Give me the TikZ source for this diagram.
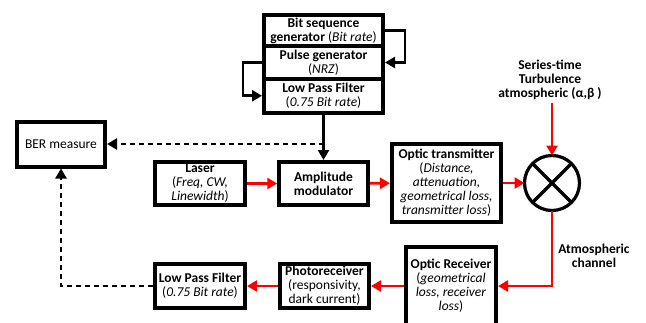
\documentclass[tikz,border=0pt]{standalone}
\usepackage{fontspec}
\setmainfont{Carlito}
\usetikzlibrary{positioning,arrows.meta}
\begin{document}
\begin{tikzpicture}[x=1pt, y=-1pt, font=\fontsize{13.5}{14}\selectfont,
    blk/.style={draw, line width=4pt, align=center, inner sep=1pt},
    lbl/.style={align=center, font=\fontsize{13.5}{14}\selectfont\bfseries},
    sig/.style={red, line width=2.8pt, -{Triangle[length=10pt,width=11pt]}},
    ctl/.style={black, line width=2.8pt, -{Triangle[length=10pt,width=11pt]}},
    meas/.style={ctl, dash pattern=on 5pt off 4pt}]
        \useasboundingbox (0,0) rectangle (646,322);
        \clip (0,0) rectangle (646,322);
        % transmitter side
        \node[blk, minimum width=119pt, minimum height=31pt] (bitgen) at (323.5,30.5) {\textbf{Bit sequence}\\\textbf{generator} (\textit{Bit rate})};
        \node[blk, minimum width=119pt, minimum height=33pt] (pulsegen) [below=-4pt of bitgen] {\textbf{Pulse generator}\\(\textit{NRZ})};
        \node[blk, minimum width=119pt, minimum height=33.5pt] (lpfa) [below=-4pt of pulsegen] {\textbf{Low Pass Filter}\\(\textit{0.75 Bit rate})};
        \node[blk, minimum width=88pt, minimum height=45pt] (ber) at (61,144) {BER measure};
        \node[blk, minimum width=90pt, minimum height=43pt] (laser) at (200,183.5) {\textbf{Laser}\\(\textit{Freq, CW,}\\\textit{Linewidth})};
        \node[blk, minimum width=88.5pt, minimum height=43pt] (ammod) at (323.5,183.5) {\textbf{Amplitude}\\\textbf{modulator}};
        \node[blk, minimum width=109pt, minimum height=78pt] (otx) at (446.5,183) {\textbf{Optic transmitter}\\(\textit{Distance,}\\\textit{attenuation,}\\\textit{geometrical loss,}\\\textit{transmitter loss})};
        % channel
        \node[draw, circle, line width=3.2pt, outer sep=0pt, minimum size=55pt] (mix) at (552,183) {};
        \draw[line width=3.2pt] (mix.45) -- (mix.225) (mix.135) -- (mix.315);
        \node[lbl] (turb) at (550,80) {Series-time\\Turbulence\\atmospheric (α,β )};
        \node[lbl] (chan) at (594,256) {Atmospheric\\channel};
        % receiver side
        \node[blk, minimum width=90pt, minimum height=78pt] (orx) at (451,286) {\textbf{Optic Receiver}\\(\textit{geometrical}\\\textit{loss, receiver}\\\textit{loss})};
        \node[blk, minimum width=89pt, minimum height=44pt] (phr) at (324.5,286) {\textbf{Photoreceiver}\\(responsivity,\\dark current)};
        \node[blk, minimum width=90pt, minimum height=44pt] (lpfb) at (200,286) {\textbf{Low Pass Filter}\\(\textit{0.75 Bit rate})};
        \draw[ctl] (bitgen.east) -- ++(20,0) |- (pulsegen.east);
        \draw[ctl] (pulsegen.west) -- ++(-19,0) |- (lpfa.west);
        \draw[ctl] (lpfa.south) -- (ammod.north);
        \draw[meas] (lpfa.south |- ber.east) -- (ber.east);
        \draw[sig] (laser) -- (ammod);
        \draw[sig] (ammod) -- (otx);
        \draw[sig] (otx.east) -- (mix.west);
        \draw[sig] (turb.south -| mix.north) -- (mix.north);
        \draw[sig] (mix.south) |- (orx.east);
        \draw[sig] (orx.west) -- (phr.east);
        \draw[sig] (phr.west) -- (lpfb.east);
        \draw[meas] (lpfb.west) -| (ber.south);
    \end{tikzpicture}
\end{document}
